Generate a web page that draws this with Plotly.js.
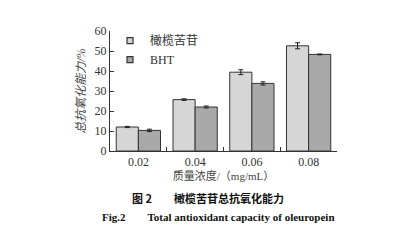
<!DOCTYPE html>
<html><head><meta charset="utf-8">
<script src="https://cdn.plot.ly/plotly-3.0.1.min.js"></script>
<style>html,body{margin:0;padding:0;background:#fff;}#c{width:413px;height:250px;}</style>
</head><body><div id="c"></div>
<script>
const categories = ['0.02', '0.04', '0.06', '0.08'];
const oleuropein = [12.0, 25.7, 39.4, 52.6];
const oleuropeinErr = [0.3, 0.4, 1.2, 1.5];
const bht = [10.3, 22.0, 33.8, 48.3];
const bhtErr = [0.6, 0.5, 0.8, 0.2];
const seriesNames = ['橄榄苦苷', 'BHT'];
const seriesColors = ['#d6d6d6', '#a9a9a9'];
const yTicks = [0, 10, 20, 30, 40, 50, 60];

const serif = '"Liberation Serif", "Noto Sans CJK SC", serif';
const traces = [
  {type:'bar', name:seriesNames[0], x:categories, y:oleuropein, showlegend:false,
   error_y:{type:'data', array:oleuropeinErr, visible:true, color:'#222', thickness:1, width:2.5},
   marker:{color:seriesColors[0], line:{color:'#333', width:1}}},
  {type:'bar', name:seriesNames[1], x:categories, y:bht, showlegend:false,
   error_y:{type:'data', array:bhtErr, visible:true, color:'#222', thickness:1, width:2.5},
   marker:{color:seriesColors[1], line:{color:'#333', width:1}}},
  {type:'scatter', mode:'markers', name:seriesNames[0], x:[null], y:[null],
   marker:{symbol:'square', size:6, color:seriesColors[0], line:{color:'#333', width:1.2}}},
  {type:'scatter', mode:'markers', name:seriesNames[1], x:[null], y:[null],
   marker:{symbol:'square', size:6, color:seriesColors[1], line:{color:'#333', width:1.2}}}
];
const layout = {
  width:413, height:250,
  margin:{l:110, r:76, t:31, b:99},
  paper_bgcolor:'#fff', plot_bgcolor:'#fff',
  barmode:'group', bargap:0.22, bargroupgap:0,
  showlegend:true,
  legend:{x:0.0, y:1.04, xanchor:'left', yanchor:'top', bgcolor:'rgba(0,0,0,0)',
          font:{family:serif, size:12, color:'#333'}, tracegroupgap:0, itemwidth:30},
  font:{family:serif, color:'#333'},
  xaxis:{type:'category', showline:true, linecolor:'#333', linewidth:1,
         ticks:'inside', tickson:'boundaries', ticklen:4, tickcolor:'#333',
         tickfont:{family:serif, size:12, color:'#333'}, showgrid:false, zeroline:false,
         title:{text:'质量浓度/（mg/mL）', font:{family:serif, size:11, color:'#444'}, standoff:2}},
  yaxis:{range:[0,60], tickvals:yTicks, showline:true, linecolor:'#333', linewidth:1,
         ticks:'inside', ticklen:4, tickcolor:'#333', showgrid:false, zeroline:false,
         tickfont:{family:serif, size:12, color:'#333'},
         title:{text:'<i>总抗氧化能力/%</i>', font:{family:serif, size:12, color:'#444'}, standoff:6}},
  annotations:[
    {text:'<b>图 2　　橄榄苦苷总抗氧化能力</b>', xref:'paper', yref:'paper', x:0.43, y:-0.39,
     xanchor:'center', yanchor:'middle', showarrow:false,
     font:{family:'"Noto Sans CJK SC", sans-serif', size:11, color:'#111'}},
    {text:'<b>Fig.2　　Total antioxidant capacity of oleuropein</b>', xref:'paper', yref:'paper', x:0.476, y:-0.55,
     xanchor:'center', yanchor:'middle', showarrow:false,
     font:{family:serif, size:11, color:'#111'}}
  ]
};
Plotly.newPlot('c', traces, layout, {displayModeBar:false, staticPlot:true});
</script></body></html>
